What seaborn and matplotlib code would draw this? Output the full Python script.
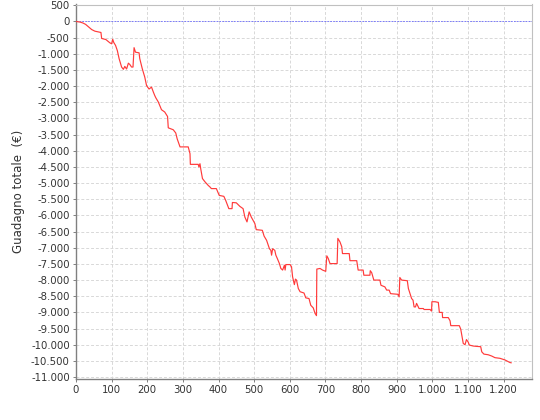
import matplotlib
matplotlib.use("Agg")
import matplotlib.pyplot as plt
from matplotlib.ticker import FuncFormatter, MultipleLocator
import seaborn as sns
import pandas as pd

# cumulative total gain per bet number
bet_number = [
    0, 12, 20, 27, 44, 53, 70, 72, 84, 95, 100, 103, 106, 111, 116, 121, 128, 133,
    137, 142, 147, 151, 156, 160, 163, 167, 177, 179, 186, 193, 198, 205, 212, 217,
    221, 224, 231, 240, 249, 257, 259, 273, 280, 284, 292, 315, 320, 321, 343, 345,
    348, 350, 355, 362, 371, 376, 380, 394, 402, 415, 420, 429, 438, 439, 450, 460,
    469, 474, 480, 486, 492, 502, 506, 523, 528, 535, 543, 547, 549, 552, 558, 561,
    565, 571, 575, 580, 585, 587, 589, 601, 605, 608, 613, 616, 619, 624, 629, 640,
    645, 654, 659, 666, 671, 675, 676, 685, 692, 701, 704, 708, 713, 733, 735, 741,
    746, 748, 767, 769, 788, 792, 806, 808, 825, 826, 830, 833, 836, 853, 856, 867,
    872, 879, 883, 904, 907, 909, 914, 930, 933, 937, 942, 946, 949, 953, 956, 960,
    963, 975, 977, 994, 998, 999, 1008, 1017, 1020, 1028, 1029, 1045, 1050, 1052,
    1076, 1080, 1082, 1087, 1092, 1096, 1101, 1104, 1115, 1123, 1136, 1139, 1145,
    1157, 1167, 1176, 1190, 1204, 1218, 1222,
]
total_gain = [
    0, -20, -50, -90, -250, -300, -340, -525, -560, -660, -690, -550, -650, -740,
    -900, -1150, -1410, -1480, -1390, -1470, -1290, -1330, -1410, -1410, -810, -950,
    -970, -1150, -1460, -1720, -1980, -2090, -2030, -2180, -2290, -2360, -2490,
    -2730, -2800, -2940, -3290, -3350, -3450, -3630, -3880, -3880, -4090, -4420,
    -4420, -4500, -4400, -4550, -4860, -4960, -5070, -5120, -5170, -5170, -5380,
    -5410, -5530, -5790, -5790, -5600, -5610, -5720, -5790, -6050, -6200, -5890,
    -6050, -6250, -6440, -6460, -6640, -6770, -7030, -7080, -7230, -7030, -7080,
    -7230, -7330, -7490, -7640, -7690, -7540, -7690, -7520, -7520, -7590, -7900,
    -8140, -7970, -8000, -8260, -8360, -8400, -8550, -8570, -8780, -8860, -9030,
    -9100, -7660, -7640, -7690, -7730, -7250, -7330, -7490, -7490, -6710, -6820,
    -6970, -7180, -7180, -7400, -7400, -7690, -7690, -7850, -7850, -7710, -7770,
    -7880, -8000, -8000, -8160, -8210, -8310, -8310, -8420, -8440, -8520, -7920,
    -8000, -8020, -8260, -8400, -8570, -8620, -8830, -8830, -8720, -8810, -8880,
    -8880, -8910, -8910, -8960, -8670, -8670, -8690, -9000, -9000, -9160, -9160,
    -9260, -9410, -9410, -9520, -9650, -9960, -10000, -9840, -9920, -10010, -10040,
    -10050, -10060, -10220, -10290, -10310, -10350, -10400, -10420, -10470, -10550,
    -10560,
]
y_label = "Guadagno totale  (€)"

df = pd.DataFrame({"bet": bet_number, "gain": total_gain})

sns.set_theme(style="white")
plt.rcParams["font.family"] = ["DejaVu Sans"]

fig = plt.figure(figsize=(5.4, 4.2), dpi=100)
ax = fig.add_axes([76 / 540, 1 - 379 / 420, (532 - 76) / 540, (379 - 4.5) / 420])
ax.set_facecolor("white")

ax.grid(True, color="#d8d8d8", linestyle=(0, (3, 2)), linewidth=0.7)
ax.set_axisbelow(True)

ax.axhline(0, color="#6a6aff", linestyle=(0, (2, 1.5)), linewidth=0.6, zorder=2)

sns.lineplot(data=df, x="bet", y="gain", estimator=None, sort=False,
             color="#ff3a3a", linewidth=0.85, ax=ax, zorder=3)

ax.set_xlim(0, 1280)
ax.set_ylim(-11060, 525)
ax.xaxis.set_major_locator(MultipleLocator(100))
ax.yaxis.set_major_locator(MultipleLocator(500))

fmt = FuncFormatter(lambda v, p: f"{int(round(v)):,}".replace(",", "."))
ax.xaxis.set_major_formatter(fmt)
ax.yaxis.set_major_formatter(fmt)

ax.tick_params(axis="both", which="major", direction="out", length=2.5, width=0.7,
               color="#808080", labelsize=7.3, labelcolor="#333333", pad=2,
               bottom=True, left=True)

for side in ("left", "bottom"):
    ax.spines[side].set_color("#808080")
    ax.spines[side].set_linewidth(1.0)
for side in ("top", "right"):
    ax.spines[side].set_color("#c0c0c0")
    ax.spines[side].set_linewidth(0.8)

ax.set_xlabel("")
ax.set_ylabel(y_label, fontsize=8.5, color="#333333", labelpad=4)

fig.savefig("out.png", dpi=100)
